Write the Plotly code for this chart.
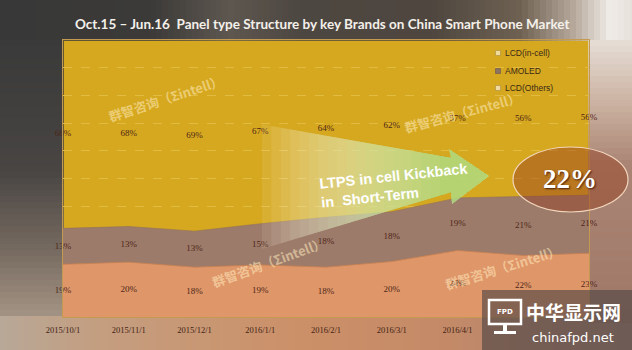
import plotly.graph_objects as go

# ---------------- data ----------------
dates = ["2015/10/1", "2015/11/1", "2015/12/1", "2016/1/1", "2016/2/1",
         "2016/3/1", "2016/4/1", "2016/5/1", "2016/6/1"]
lcd_incell = [68, 68, 69, 67, 64, 62, 57, 56, 56]
amoled = [13, 13, 13, 15, 18, 18, 19, 21, 21]
lcd_others = [19, 20, 18, 19, 18, 20, 24, 22, 23]
series_names = ["LCD(in-cell)", "AMOLED", "LCD(Others)"]
title_text = "Oct.15 \u2013 Jun.16  Panel type Structure by key Brands on China Smart Phone Market"
callout_text = "LTPS in cell Kickback<br>in  Short-Term"
callout_value = "22%"
watermark = "群智咨询（Σintell）"
visible_ticks = dates[:7]  # the last two are hidden behind the logo box

# ---------------- geometry helpers (pixel -> paper) ----------------
W, H = 632, 350
PL, PR, PT, PB = 63, 589, 40, 317


def px(x):
    return (x - PL) / (PR - PL)


def py(y):
    return (PB - y) / (PB - PT)


def hex2rgb(h):
    h = h.lstrip("#")
    return tuple(int(h[i:i + 2], 16) for i in (0, 2, 4))


def interp(stops, v):
    for (a, ca), (b, cb) in zip(stops, stops[1:]):
        if a <= v <= b:
            t = (v - a) / (b - a) if b > a else 0
            c1, c2 = hex2rgb(ca), hex2rgb(cb)
            return "rgb(%d,%d,%d)" % tuple(round(c1[k] + (c2[k] - c1[k]) * t) for k in range(3))
    return stops[-1][1] if v > stops[-1][0] else stops[0][1]


shapes = []


def rect(x0, y0, x1, y1, color, layer="below", line=None):
    shapes.append(dict(type="rect", xref="paper", yref="paper",
                       x0=px(x0), x1=px(x1), y0=py(y1), y1=py(y0),
                       fillcolor=color, line=line or dict(width=0), layer=layer))


# background gradients in the margins
top_stops = [(0, "#383838"), (150, "#3b3a38"), (230, "#5e5750"), (300, "#4d4741"),
             (430, "#4e463f"), (520, "#6e6152"), (575, "#b8ab9e"), (610, "#f0ece8"), (632, "#e6e0da")]
step = 6
for x in range(0, W, step):
    rect(x, 0, x + step + 1, PT + 1, interp(top_stops, x + step / 2))
left_stops = [(PT, "#3a3a3a"), (170, "#484543"), (250, "#766a60"), (PB, "#a49484")]
for y in range(PT, PB, step):
    rect(0, y, PL + 1, y + step + 1, interp(left_stops, y + step / 2))
bottom_stops = [(0, "#b8a898"), (100, "#c49e80"), (300, "#cc9068"), (450, "#c48a68"), (632, "#a48272")]
for x in range(0, W, step):
    rect(x, PB - 1, x + step + 1, H, interp(bottom_stops, x + step / 2))
right_stops = [(PT, "#e6ded6"), (110, "#c8ad9c"), (165, "#a98474"), (PB, "#a07868")]
for y in range(PT, PB, step):
    rect(PR - 1, y, W, y + step + 1, interp(right_stops, y + step / 2))

# ---------------- traces ----------------
fig = go.Figure()
fig.add_trace(go.Scatter(x=dates, y=lcd_others, name=series_names[2], stackgroup="one",
                         groupnorm="percent", mode="lines",
                         line=dict(width=0.8, color="#c98058"), fillcolor="#df9669",
                         showlegend=False, hoverinfo="skip"))
fig.add_trace(go.Scatter(x=dates, y=amoled, name=series_names[1], stackgroup="one",
                         mode="lines", line=dict(width=0.6, color="#8f6e60"), fillcolor="#9d7b6a",
                         showlegend=False, hoverinfo="skip"))
fig.add_trace(go.Scatter(x=dates, y=lcd_incell, name=series_names[0], stackgroup="one",
                         mode="lines", line=dict(width=0, color="rgba(0,0,0,0)"),
                         fillcolor="rgba(214,166,30,0.25)",
                         showlegend=False, hoverinfo="skip"))

# data labels at band centres
lab_x, lab_y, lab_t = [], [], []
for i, d in enumerate(dates):
    tot = lcd_others[i] + amoled[i] + lcd_incell[i]
    o = lcd_others[i] / tot * 100
    a = amoled[i] / tot * 100
    c = lcd_incell[i] / tot * 100
    for val, mid in ((lcd_others[i], o / 2), (amoled[i], o + a / 2), (lcd_incell[i], o + a + c / 2)):
        lab_x.append(d)
        lab_y.append(mid)
        lab_t.append(f"{val}%")
fig.add_trace(go.Scatter(x=lab_x, y=lab_y, text=lab_t, mode="text", cliponaxis=False,
                         textfont=dict(family="Liberation Serif", size=9, color="#4e2618"),
                         showlegend=False, hoverinfo="skip"))

# ---------------- arrow (decoration, layered for a soft gradient) ----------------
def top_edge(x):
    return 158 - 0.177 * (452 - x)


def bot_edge(x):
    return 192 + 0.30 * (452 - x)


n_layers = 20
c_start, c_end = (255, 250, 232), (140, 212, 80)
for k in range(n_layers):
    xs = 262 + k * (440 - 262) / (n_layers - 1)
    t = k / (n_layers - 1)
    col = tuple(round(c_start[j] + (c_end[j] - c_start[j]) * t) for j in range(3))
    path = ("M {} {} L {} {} L {} {} L {} {} L {} {} L {} {} L {} {} Z").format(
        px(xs), py(top_edge(xs)), px(451), py(top_edge(451)),
        px(449), py(149), px(489), py(176), px(452), py(204),
        px(451), py(bot_edge(451)), px(xs), py(bot_edge(xs)))
    shapes.append(dict(type="path", xref="paper", yref="paper", path=path,
                       fillcolor="rgba(%d,%d,%d,0.09)" % col, line=dict(width=0), layer="above"))

# ellipse
shapes.append(dict(type="circle", xref="paper", yref="paper",
                   x0=px(513), x1=px(628), y0=py(212), y1=py(147),
                   fillcolor="rgba(150,62,30,0.45)", line=dict(color="#f2d6bc", width=1.2),
                   layer="above"))

# logo box
rect(482, 290, 632, 350, "rgba(78,68,68,0.62)", layer="above")
rect(489, 300, 521, 324, "rgba(0,0,0,0)", layer="above", line=dict(color="white", width=2.5))
rect(503, 324, 507, 331, "white", layer="above")
rect(494, 331, 516, 334, "white", layer="above")

# custom legend squares
rect(495.5, 50.5, 500.5, 55.5, "#f0dc98", layer="above", line=dict(color="#a88a40", width=0.6))
rect(495.5, 68.5, 500.5, 73.5, "#8b7262", layer="above", line=dict(color="#6a5548", width=0.6))
rect(495.5, 85.5, 500.5, 90.5, "#f2d9a0", layer="above", line=dict(color="#a88a40", width=0.6))

# ---------------- annotations ----------------
ann = []
for name, yy in zip(series_names, [53, 71, 88]):
    ann.append(dict(text=name, xref="paper", yref="paper", x=px(503), y=py(yy),
                    xanchor="left", yanchor="middle", showarrow=False,
                    font=dict(family="Liberation Sans", size=8.5, color="#3a2818")))

for (cx, cy, ang) in [(165, 98, -18), (462, 113, -15), (268, 262, -20), (502, 267, -17)]:
    ann.append(dict(text="<b>" + watermark + "</b>", xref="paper", yref="paper",
                    x=px(cx), y=py(cy), xanchor="center", yanchor="middle", showarrow=False,
                    textangle=ang,
                    font=dict(family="Noto Sans CJK SC", size=13, color="rgba(255,236,190,0.55)")))

ann.append(dict(text="<b>" + callout_text + "</b>", xref="paper", yref="paper",
                x=px(395), y=py(186), xanchor="center", yanchor="middle", align="left",
                showarrow=False, textangle=-6,
                font=dict(family="Liberation Sans", size=14.5, color="white")))
ann.append(dict(text="<b>" + callout_value + "</b>", xref="paper", yref="paper",
                x=px(570), y=py(179), xanchor="center", yanchor="middle", showarrow=False,
                font=dict(family="Liberation Serif", size=27, color="white",
                          shadow="1px 1px 2px #4a1a08")))
ann.append(dict(text="<b>FPD</b>", xref="paper", yref="paper", x=px(505), y=py(312),
                xanchor="center", yanchor="middle", showarrow=False,
                font=dict(family="DejaVu Sans", size=7, color="white")))
ann.append(dict(text="<b>中华显示网</b>", xref="paper", yref="paper", x=px(573), y=py(311),
                xanchor="center", yanchor="middle", showarrow=False,
                font=dict(family="Noto Sans CJK SC", size=19, color="white")))
ann.append(dict(text="chinafpd.net", xref="paper", yref="paper", x=px(573), y=py(337),
                xanchor="center", yanchor="middle", showarrow=False,
                font=dict(family="DejaVu Sans", size=13, color="white")))

fig.update_layout(
    width=W, height=H,
    margin=dict(l=PL, r=W - PR, t=PT, b=H - PB, pad=0),
    paper_bgcolor="#4a4542",
    plot_bgcolor="#d6a81f",
    title=dict(text="<b>" + title_text + "</b>", xref="container", yref="container",
               x=75 / W, xanchor="left", y=1 - 24 / H, yanchor="middle",
               font=dict(family="Lato", size=13.5, color="#f4f0ea")),
    xaxis=dict(type="category", range=[0, 8], showgrid=False, zeroline=False,
               showline=True, linecolor="#c49a50", linewidth=1, mirror=True,
               ticks="", ticklabelstandoff=5,
               tickmode="array", tickvals=visible_ticks, ticktext=visible_ticks,
               tickfont=dict(family="Liberation Serif", size=8.5, color="#432314")),
    yaxis=dict(range=[0, 100], dtick=10, showticklabels=False, zeroline=False,
               showgrid=True, gridcolor="#e6c24c", griddash="dash", gridwidth=1,
               showline=True, linecolor="#c49a50", linewidth=1, mirror=True, ticks=""),
    shapes=shapes,
    annotations=ann,
    showlegend=False,
)

fig.write_html("out.html")
